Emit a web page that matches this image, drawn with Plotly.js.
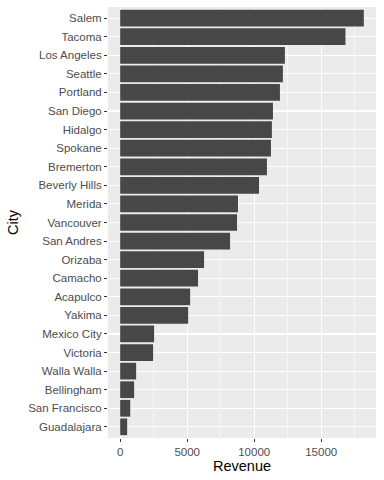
<!DOCTYPE html>
<html>
<head>
<meta charset="utf-8">
<script src="https://cdn.plot.ly/plotly-3.0.1.min.js"></script>
<style>html,body{margin:0;padding:0;background:#fff;}#chart{width:384px;height:480px;}</style>
</head>
<body>
<div id="chart"></div>
<script>
// Cities from top to bottom as drawn
const cities = ["Salem","Tacoma","Los Angeles","Seattle","Portland","San Diego","Hidalgo","Spokane","Bremerton","Beverly Hills","Merida","Vancouver","San Andres","Orizaba","Camacho","Acapulco","Yakima","Mexico City","Victoria","Walla Walla","Bellingham","San Francisco","Guadalajara"];
const revenue = [18180,16810,12290,12140,11920,11400,11320,11250,10950,10360,8790,8720,8200,6260,5810,5220,5070,2530,2460,1190,1040,750,520];
const xTicks = [0,5000,10000,15000];

const ordCities = cities.slice().reverse();
const ordRevenue = revenue.slice().reverse();

const trace = {
  type: 'bar',
  orientation: 'h',
  x: ordRevenue,
  y: ordCities,
  width: 0.9,
  marker: {color: '#474747', line: {width: 0}},
  hoverinfo: 'x+y'
};

const layout = {
  width: 384, height: 480,
  margin: {l: 108, r: 8, t: 7, b: 42},
  paper_bgcolor: '#ffffff',
  plot_bgcolor: '#ebebeb',
  font: {family: 'Liberation Sans, Arial, sans-serif', color: '#4d4d4d'},
  showlegend: false,
  bargap: 0.1,
  xaxis: {
    range: [-909, 19089],
    tickvals: xTicks,
    ticktext: xTicks.map(String),
    ticks: 'outside', ticklen: 3, tickwidth: 1, tickcolor: '#333333',
    tickfont: {size: 11.5, color: '#4d4d4d'},
    showgrid: true, gridcolor: '#ffffff', gridwidth: 1.1,
    minor: {tickvals: [2500,7500,12500,17500], showgrid: true, gridcolor: '#ffffff', gridwidth: 0.55, ticks: ''},
    zeroline: false, showline: false,
    title: {text: 'Revenue', font: {size: 14.5, color: '#000000'}, standoff: 4},
    fixedrange: true
  },
  yaxis: {
    type: 'category',
    categoryorder: 'array', categoryarray: ordCities,
    range: [-0.6, 22.6],
    ticks: 'outside', ticklen: 3, tickwidth: 1, tickcolor: '#333333',
    tickfont: {size: 11.5, color: '#4d4d4d'},
    showgrid: true, gridcolor: '#ffffff', gridwidth: 1.1,
    zeroline: false, showline: false,
    title: {text: 'City', font: {size: 14.5, color: '#000000'}, standoff: 6},
    fixedrange: true
  }
};

Plotly.newPlot('chart', [trace], layout, {displayModeBar: false, staticPlot: true});
</script>
</body>
</html>
